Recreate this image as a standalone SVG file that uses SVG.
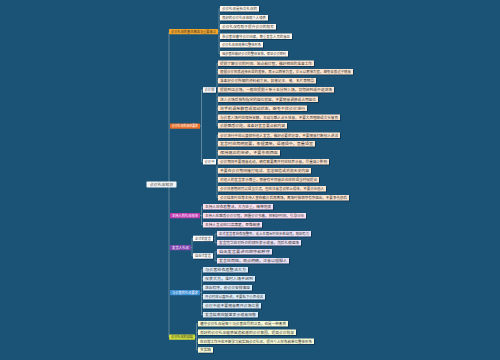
<svg xmlns="http://www.w3.org/2000/svg" width="500" height="360" viewBox="0 0 500 360">
<style>
text{font-family:"Noto Sans CJK SC","Noto Sans",sans-serif;font-size:3.6px;fill:#333}
.sh{fill:#0d3250}
.l1{fill:#fff7ec}.l2{fill:#fde5d0}.l3{fill:#f9dff0}.l4{fill:#ebe2f6}.l5{fill:#dbebf9}.l6{fill:#f6f8d6}
.sub{fill:#ffffff}
.wt{fill:#ffffff}
#connectors path{fill:none;stroke:#8fa7b3;stroke-width:0.6}
</style>
<rect width="500" height="360" fill="#1b5377"/>
<g id="connectors">
<path d="M169 32V337M169 184.5H147"/>
<path d="M218 31.5H219M219 8.8V53.8M219 8.8H220M219 17.8H220M219 26.8H220M219 36.3H220M219 44.8H220M219 53.8H220"/>
<path d="M200 126H201.5M201.5 90V161.8M201.5 90H203M201.5 161.8H203"/>
<path d="M216 90H217M217 63.3V125.8M217 63.3H218M217 71.8H218M217 80.8H218M217 89.8H218M217 99.3H218M217 108.3H218M217 117.3H218M217 125.8H218"/>
<path d="M216 161.8H217M217 135.3V197.8M217 135.3H218M217 143.8H218M217 152.8H218M217 161.8H218M217 170.8H218M217 179.8H218M217 188.8H218M217 197.8H218"/>
<path d="M200 215.5H201.5M201.5 206.8V224.8M201.5 206.8H203M201.5 215.8H203M201.5 224.8H203"/>
<path d="M191 247.5H192M192 238.5V256M192 238.5H193M192 256H193"/>
<path d="M213 238.5H215M215 233.8V242.8M215 233.8H217M215 242.8H217M213 256H215M215 251.8V260.8M215 251.8H217M215 260.8H217"/>
<path d="M200 292.5H201.5M201.5 269.8V314.8M201.5 269.8H203M201.5 278.8H203M201.5 287.8H203M201.5 296.8H203M201.5 305.8H203M201.5 314.8H203"/>
<path d="M195 337H196.5M196.5 323.8V350M196.5 323.8H198M196.5 332.3H198M196.5 341.3H198M196.5 350H198"/>
</g>
<g id="root"><rect x="146.5" y="181.5" width="30" height="6" rx="0.8" fill="#f2f4f6"/><text x="150" y="185.8" textLength="23" lengthAdjust="spacingAndGlyphs">会议礼仪知识</text></g>
<g id="b1"><rect x="169" y="29" width="49" height="5.2" rx="0.6" fill="#f4a52a"/><text x="171" y="32.9" textLength="45" lengthAdjust="spacingAndGlyphs">会议礼仪的基本概念与重要意义</text></g>
<g id="n1"><rect class="sh" x="220.8" y="6.8" width="39" height="5.5"/><rect class="l1" x="220" y="6" width="39" height="5.5"/><text x="222" y="10" textLength="35" lengthAdjust="spacingAndGlyphs">会议礼仪是社交礼仪的</text></g>
<g id="n2"><rect class="sh" x="220.8" y="15.8" width="48" height="5.5"/><rect class="l1" x="220" y="15" width="48" height="5.5"/><text x="222" y="19" textLength="44" lengthAdjust="spacingAndGlyphs">良好的会议礼仪体现个人修养</text></g>
<g id="n3"><rect class="sh" x="220.8" y="24.8" width="56" height="5.5"/><rect class="l1" x="220" y="24" width="56" height="5.5"/><text x="222" y="28" textLength="52" lengthAdjust="spacingAndGlyphs">会议礼仪有助于提升会议的效率</text></g>
<g id="n4"><rect class="sh" x="220.8" y="34.3" width="72" height="5.5"/><rect class="l1" x="220" y="33.5" width="72" height="5.5"/><text x="222" y="37.5" textLength="68" lengthAdjust="spacingAndGlyphs">参会者应遵守会议纪律，尊重发言人员的意见</text></g>
<g id="n5"><rect class="sh" x="220.8" y="42.8" width="43" height="5.5"/><rect class="l1" x="220" y="42" width="43" height="5.5"/><text x="222" y="46" textLength="39" lengthAdjust="spacingAndGlyphs">会议礼仪体现单位整体形象</text></g>
<g id="n6"><rect class="sh" x="220.8" y="51.8" width="68" height="5.5"/><rect class="l1" x="220" y="51" width="68" height="5.5"/><text x="222" y="55" textLength="64" lengthAdjust="spacingAndGlyphs">组织者应做好会议的整体安排，保证会议顺利</text></g>
<g id="b2"><rect x="170" y="123.5" width="30" height="5.2" rx="0.6" fill="#e8702a"/><text class="wt" x="172" y="127.4" textLength="26" lengthAdjust="spacingAndGlyphs">会议礼仪的具体要求</text></g>
<g id="s1"><rect class="sh" x="203.8" y="88" width="13" height="5.5"/><rect class="sub" x="203" y="87.2" width="13" height="5.5"/><text x="204.5" y="91.2" textLength="10" lengthAdjust="spacingAndGlyphs">会议前</text></g>
<g id="n7"><rect class="sh" x="218.8" y="61.3" width="96" height="5.5"/><rect class="l2" x="218" y="60.5" width="96" height="5.5"/><text x="220" y="64.5" textLength="92" lengthAdjust="spacingAndGlyphs">提前了解会议的时间、地点和议程，做好相应的准备工作</text></g>
<g id="n8"><rect class="sh" x="218.8" y="69.8" width="135" height="5.5"/><rect class="l2" x="218" y="69" width="135" height="5.5"/><text x="220" y="73" textLength="131" lengthAdjust="spacingAndGlyphs">根据会议性质选择合适的着装，男士以西装为宜，女士以套装为宜，避免穿着过于随意</text></g>
<g id="n9"><rect class="sh" x="218.8" y="78.8" width="98" height="5.5"/><rect class="l2" x="218" y="78" width="98" height="5.5"/><text x="220" y="82" textLength="94" lengthAdjust="spacingAndGlyphs">准备好会议所需的资料和文具，如笔记本、笔、名片等物品</text></g>
<g id="n10"><rect class="sh" x="218.8" y="87.8" width="116" height="5.5"/><rect class="l2" x="218" y="87" width="116" height="5.5"/><text x="220" y="91" textLength="112" lengthAdjust="spacingAndGlyphs">提前到达会场，一般应提前十至十五分钟入场，切勿迟到或中途进场</text></g>
<g id="n11"><rect class="sh" x="218.8" y="97.3" width="100" height="5.5"/><rect class="l2" x="218" y="96.5" width="100" height="5.5"/><text x="220" y="100.5" textLength="96" lengthAdjust="spacingAndGlyphs">进入会场后按照指定的座位就座，不要随意调换或占用座位</text></g>
<g id="n12"><rect class="sh" x="218.8" y="106.3" width="89" height="5.5"/><rect class="l2" x="218" y="105.5" width="89" height="5.5"/><text x="220" y="109.5" textLength="85" lengthAdjust="spacingAndGlyphs">将手机调至静音或振动状态，避免干扰会议进行</text></g>
<g id="n13"><rect class="sh" x="218.8" y="115.3" width="122" height="5.5"/><rect class="l2" x="218" y="114.5" width="122" height="5.5"/><text x="220" y="118.5" textLength="118" lengthAdjust="spacingAndGlyphs">与会者入场时应保持安静，主动与熟人点头致意，不要大声喧哗或交头接耳</text></g>
<g id="n14"><rect class="sh" x="218.8" y="123.8" width="69" height="5.5"/><rect class="l2" x="218" y="123" width="69" height="5.5"/><text x="220" y="127" textLength="65" lengthAdjust="spacingAndGlyphs">会前熟悉议题，准备好发言要点和内容</text></g>
<g id="s2"><rect class="sh" x="203.8" y="159.8" width="13" height="5.5"/><rect class="sub" x="203" y="159" width="13" height="5.5"/><text x="204.5" y="163" textLength="10" lengthAdjust="spacingAndGlyphs">会议中</text></g>
<g id="n15"><rect class="sh" x="218.8" y="133.3" width="122" height="5.5"/><rect class="l2" x="218" y="132.5" width="122" height="5.5"/><text x="220" y="136.5" textLength="118" lengthAdjust="spacingAndGlyphs">会议进行中应认真倾听他人发言，做好必要的记录，不要随意打断别人讲话</text></g>
<g id="n16"><rect class="sh" x="218.8" y="141.8" width="97" height="5.5"/><rect class="l2" x="218" y="141" width="97" height="5.5"/><text x="220" y="145" textLength="93" lengthAdjust="spacingAndGlyphs">发言时应简明扼要，条理清晰，语速适中，音量适宜</text></g>
<g id="n17"><rect class="sh" x="218.8" y="150.8" width="62" height="5.5"/><rect class="l2" x="218" y="150" width="62" height="5.5"/><text x="220" y="154" textLength="58" lengthAdjust="spacingAndGlyphs">保持端正的坐姿，不要东倒西歪</text></g>
<g id="n18"><rect class="sh" x="218.8" y="159.8" width="111" height="5.5"/><rect class="l2" x="218" y="159" width="111" height="5.5"/><text x="220" y="163" textLength="107" lengthAdjust="spacingAndGlyphs">会议期间不要随意走动，确有需要离开时应轻声示意，尽量减少影响</text></g>
<g id="n19"><rect class="sh" x="218.8" y="168.8" width="93" height="5.5"/><rect class="l2" x="218" y="168" width="93" height="5.5"/><text x="220" y="172" textLength="89" lengthAdjust="spacingAndGlyphs">不要在会议期间接打电话、发送短信或浏览无关内容</text></g>
<g id="n20"><rect class="sh" x="218.8" y="177.8" width="101" height="5.5"/><rect class="l2" x="218" y="177" width="101" height="5.5"/><text x="220" y="181" textLength="97" lengthAdjust="spacingAndGlyphs">对他人的发言表示尊重，即使有不同意见也应在适当时候提出</text></g>
<g id="n21"><rect class="sh" x="218.8" y="186.8" width="108" height="5.5"/><rect class="l2" x="218" y="186" width="108" height="5.5"/><text x="220" y="190" textLength="104" lengthAdjust="spacingAndGlyphs">会议休息期间可以适当交流，但应注意言谈举止得体，不要议论他人</text></g>
<g id="n22"><rect class="sh" x="218.8" y="195.8" width="131" height="5.5"/><rect class="l2" x="218" y="195" width="131" height="5.5"/><text x="220" y="199" textLength="127" lengthAdjust="spacingAndGlyphs">会议结束时应等主持人宣布散会后再离场，离场时按顺序有序退出，不要争先恐后</text></g>
<g id="b3"><rect x="170" y="213" width="30" height="5.2" rx="0.6" fill="#c23db2"/><text class="wt" x="172" y="216.9" textLength="26" lengthAdjust="spacingAndGlyphs">主持人的礼仪规范</text></g>
<g id="n23"><rect class="sh" x="203.8" y="204.8" width="70" height="5.5"/><rect class="l3" x="203" y="204" width="70" height="5.5"/><text x="205" y="208" textLength="66" lengthAdjust="spacingAndGlyphs">主持人应衣着整洁，大方庄重，精神饱满</text></g>
<g id="n24"><rect class="sh" x="203.8" y="213.8" width="103" height="5.5"/><rect class="l3" x="203" y="213" width="103" height="5.5"/><text x="205" y="217" textLength="99" lengthAdjust="spacingAndGlyphs">主持人应熟悉会议议程，把握会议节奏，控制好时间，引导讨论</text></g>
<g id="n25"><rect class="sh" x="203.8" y="222.8" width="59" height="5.5"/><rect class="l3" x="203" y="222" width="59" height="5.5"/><text x="205" y="226" textLength="55" lengthAdjust="spacingAndGlyphs">主持人言谈应口齿清楚，思维敏捷</text></g>
<g id="b4"><rect x="170" y="245" width="21" height="5.2" rx="0.6" fill="#8446b0"/><text class="wt" x="172" y="248.9" textLength="17" lengthAdjust="spacingAndGlyphs">发言人礼仪</text></g>
<g id="s3"><rect class="sh" x="193.8" y="236.5" width="20" height="5.5"/><rect class="sub" x="193" y="235.7" width="20" height="5.5"/><text x="195" y="239.7" textLength="16" lengthAdjust="spacingAndGlyphs">正式的发言</text></g>
<g id="s4"><rect class="sh" x="193.8" y="254" width="20" height="5.5"/><rect class="sub" x="193" y="253.2" width="20" height="5.5"/><text x="195" y="257.2" textLength="16" lengthAdjust="spacingAndGlyphs">自由式发言</text></g>
<g id="n26"><rect class="sh" x="217.8" y="231.8" width="94" height="5.5"/><rect class="l4" x="217" y="231" width="94" height="5.5"/><text x="219" y="235" textLength="90" lengthAdjust="spacingAndGlyphs">正式发言者应衣冠整齐，走上主席台时应步态自然，刚劲有力</text></g>
<g id="n27"><rect class="sh" x="217.8" y="240.8" width="84" height="5.5"/><rect class="l4" x="217" y="240" width="84" height="5.5"/><text x="219" y="244" textLength="80" lengthAdjust="spacingAndGlyphs">发言完毕应对听众的倾听表示谢意，然后礼貌退场</text></g>
<g id="n28"><rect class="sh" x="217.8" y="249.8" width="55" height="5.5"/><rect class="l4" x="217" y="249" width="55" height="5.5"/><text x="219" y="253" textLength="51" lengthAdjust="spacingAndGlyphs">自由发言要讲究顺序和秩序</text></g>
<g id="n29"><rect class="sh" x="217.8" y="258.8" width="72" height="5.5"/><rect class="l4" x="217" y="258" width="72" height="5.5"/><text x="219" y="262" textLength="68" lengthAdjust="spacingAndGlyphs">发言应简短，观点明确，注意以理服人</text></g>
<g id="b5"><rect x="170" y="290" width="30" height="5.2" rx="0.6" fill="#3d8fd6"/><text class="wt" x="172" y="293.9" textLength="26" lengthAdjust="spacingAndGlyphs">与会者的礼仪要求</text></g>
<g id="n30"><rect class="sh" x="203.8" y="267.8" width="45" height="5.5"/><rect class="l5" x="203" y="267" width="45" height="5.5"/><text x="205" y="271" textLength="41" lengthAdjust="spacingAndGlyphs">与会者应衣着整洁大方</text></g>
<g id="n31"><rect class="sh" x="203.8" y="276.8" width="52" height="5.5"/><rect class="l5" x="203" y="276" width="52" height="5.5"/><text x="205" y="280" textLength="48" lengthAdjust="spacingAndGlyphs">仪表大方，准时入场不迟到</text></g>
<g id="n32"><rect class="sh" x="203.8" y="285.8" width="49" height="5.5"/><rect class="l5" x="203" y="285" width="49" height="5.5"/><text x="205" y="289" textLength="45" lengthAdjust="spacingAndGlyphs">进出有序，依会议安排落座</text></g>
<g id="n33"><rect class="sh" x="203.8" y="294.8" width="62" height="5.5"/><rect class="l5" x="203" y="294" width="62" height="5.5"/><text x="205" y="298" textLength="58" lengthAdjust="spacingAndGlyphs">开会时应认真听讲，不要私下小声说话</text></g>
<g id="n34"><rect class="sh" x="203.8" y="303.8" width="58" height="5.5"/><rect class="l5" x="203" y="303" width="58" height="5.5"/><text x="205" y="307" textLength="54" lengthAdjust="spacingAndGlyphs">会议中途不要随意离开会场位置</text></g>
<g id="n35"><rect class="sh" x="203.8" y="312.8" width="55" height="5.5"/><rect class="l5" x="203" y="312" width="55" height="5.5"/><text x="205" y="316" textLength="51" lengthAdjust="spacingAndGlyphs">发言结束应鼓掌表示谢意致敬</text></g>
<g id="b6"><rect x="169" y="334.5" width="26" height="5.2" rx="0.6" fill="#cfdc3c"/><text x="171" y="338.4" textLength="22" lengthAdjust="spacingAndGlyphs">会议礼仪的总结</text></g>
<g id="n36"><rect class="sh" x="198.8" y="321.8" width="90" height="5.5"/><rect class="l6" x="198" y="321" width="90" height="5.5"/><text x="200" y="325" textLength="86" lengthAdjust="spacingAndGlyphs">遵守会议礼仪是每个与会者应尽的义务，也是一种素养</text></g>
<g id="n37"><rect class="sh" x="198.8" y="330.3" width="98" height="5.5"/><rect class="l6" x="198" y="329.5" width="98" height="5.5"/><text x="200" y="333.5" textLength="94" lengthAdjust="spacingAndGlyphs">良好的会议礼仪能够营造和谐的会议氛围，提高会议效果</text></g>
<g id="n38"><rect class="sh" x="198.8" y="339.3" width="116" height="5.5"/><rect class="l6" x="198" y="338.5" width="116" height="5.5"/><text x="200" y="342.5" textLength="112" lengthAdjust="spacingAndGlyphs">在日常工作中应不断学习和实践会议礼仪，提升个人形象和单位整体形象</text></g>
<g id="n39"><rect class="sh" x="198.8" y="348" width="15" height="5.5"/><rect class="l6" x="198" y="347.2" width="15" height="5.5"/><text x="200" y="351.2" textLength="11" lengthAdjust="spacingAndGlyphs">多实践</text></g>
</svg>
